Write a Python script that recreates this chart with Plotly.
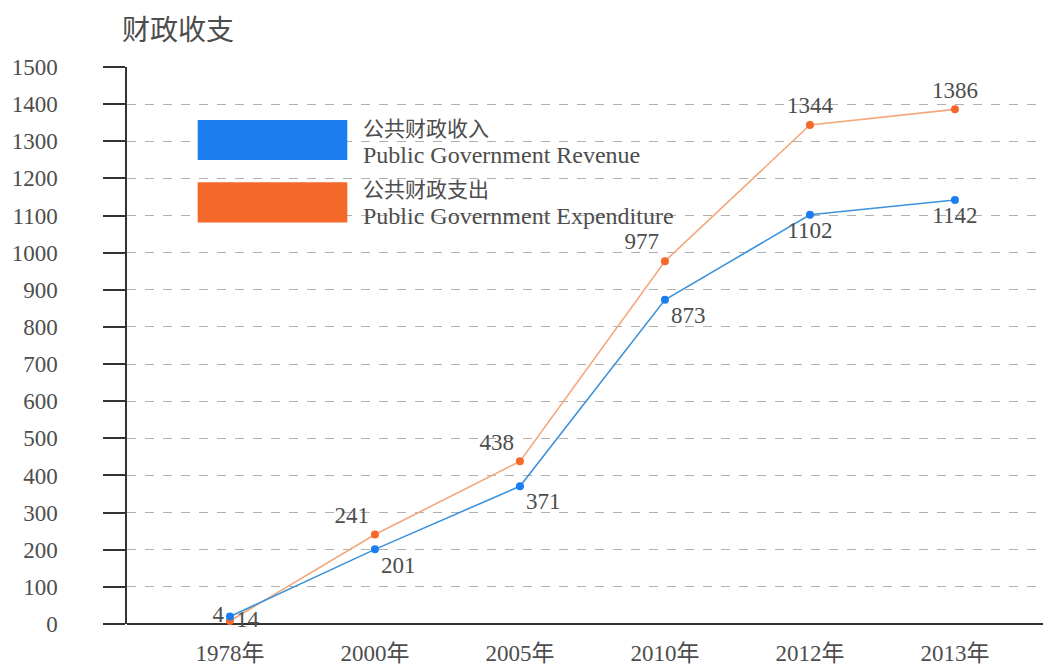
import plotly.graph_objects as go

# 数据
years = ["1978年", "2000年", "2005年", "2010年", "2012年", "2013年"]
revenue = [20, 201, 371, 873, 1102, 1142]
expenditure = [8, 241, 438, 977, 1344, 1386]
revenue_text = ["4", "201", "371", "873", "1102", "1142"]
expenditure_text = ["14", "241", "438", "977", "1344", "1386"]
y_ticks = list(range(0, 1501, 100))

BLUE = "#1a7ef0"
ORANGE = "#f4692a"
TXT = "#4d4d4d"
FONT = "Liberation Serif, Noto Sans CJK SC"

fig = go.Figure()

fig.add_trace(go.Scatter(
    x=years, y=expenditure, mode="lines+markers+text",
    line=dict(color="#f3a77c", width=1.6),
    marker=dict(color=ORANGE, size=8),
    text=expenditure_text,
    textposition=["middle right", "top left", "top left", "top left", "top center", "top center"],
    textfont=dict(family=FONT, size=23, color=TXT),
    cliponaxis=False,
))
fig.add_trace(go.Scatter(
    x=years, y=revenue, mode="lines+markers+text",
    line=dict(color="#3d92dc", width=1.6),
    marker=dict(color=BLUE, size=8),
    text=revenue_text,
    textposition=["middle left", "bottom right", "bottom right", "bottom right", "bottom center", "bottom center"],
    textfont=dict(family=FONT, size=23, color=TXT),
    cliponaxis=False,
))

# 图例 (自绘)
legend = [(BLUE, "公共财政收入", "Public Government Revenue", 0.869, 0.8653),
          (ORANGE, "公共财政支出", "Public Government Expenditure", 0.757, 0.7558)]
shapes = []
annotations = []
for color, cn, en, yc, ysplit in legend:
    shapes.append(dict(type="rect", xref="paper", yref="paper",
                       x0=0.077, x1=0.240, y0=yc - 0.036, y1=yc + 0.036,
                       fillcolor=color, line=dict(width=0), layer="above"))
    annotations.append(dict(xref="paper", yref="paper", x=0.255, y=ysplit, yshift=-2,
                            xanchor="left", yanchor="bottom", showarrow=False,
                            text=cn, font=dict(family="Noto Sans CJK SC", size=21, color=TXT)))
    annotations.append(dict(xref="paper", yref="paper", x=0.255, y=ysplit, yshift=2,
                            xanchor="left", yanchor="top", showarrow=False,
                            text=en, font=dict(family=FONT, size=24, color=TXT)))

annotations.append(dict(xref="paper", yref="paper", x=-0.008, y=1.03,
                        xanchor="left", yanchor="bottom", showarrow=False,
                        text="财政收支", font=dict(family="Noto Sans CJK SC", size=28, color=TXT)))

fig.update_layout(
    width=1043, height=657,
    margin=dict(l=119, r=6, t=59, b=41),
    plot_bgcolor="white", paper_bgcolor="white",
    showlegend=False,
    shapes=shapes, annotations=annotations,
    xaxis=dict(range=[-0.71, 5.621], showgrid=False, ticks="", ticklabelstandoff=13,
               automargin=False,
               tickfont=dict(family=FONT, size=23, color=TXT),
               showline=False, zeroline=False),
    yaxis=dict(range=[0, 1500], tickvals=y_ticks, ticks="outside", ticklen=22,
               automargin=False,
               tickcolor="#333", tickwidth=1.5, ticklabelstandoff=41,
               showline=True, linecolor="#333", linewidth=1.5,
               showgrid=True, gridcolor="#b0b0b0", griddash="dash", gridwidth=1,
               zeroline=True, zerolinecolor="#333", zerolinewidth=1.5,
               tickfont=dict(family=FONT, size=23, color=TXT)),
)

fig.write_html("out.html")
